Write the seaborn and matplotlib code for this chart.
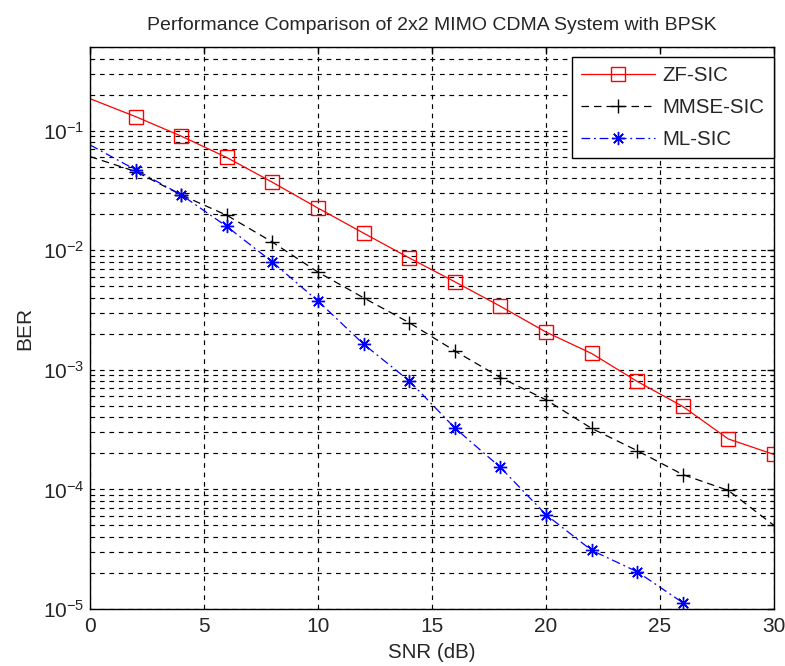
import numpy as np
import pandas as pd
import matplotlib
matplotlib.use('Agg')
import matplotlib.pyplot as plt
from matplotlib.lines import Line2D
from matplotlib.ticker import LogLocator, NullFormatter, MultipleLocator
import seaborn as sns

# Values
snr_db = [0, 2, 4, 6, 8, 10, 12, 14, 16, 18, 20, 22, 24, 26, 28, 30]
zf_sic = [0.185, 0.131, 0.090, 0.0596, 0.037, 0.0225, 0.0139, 0.00863,
          0.00545, 0.0034, 0.00207, 0.00137, 0.0008, 0.000494, 0.000264, 0.000196]
mmse_sic = [0.0607, 0.0455, 0.029, 0.0196, 0.0117, 0.00656, 0.0040, 0.00248,
            0.00144, 0.000862, 0.000562, 0.000324, 0.000211, 0.000133, 9.8e-5, 5.0e-5]
ml_sic = [0.076, 0.047, 0.0291, 0.0158, 0.00797, 0.00376, 0.00164, 0.00081,
          0.000327, 0.000153, 6.15e-5, 3.1e-5, 2.05e-5, 1.13e-5]
labels = ['ZF-SIC', 'MMSE-SIC', 'ML-SIC']

sns.set_style('white')
plt.rcParams['font.family'] = ['Liberation Sans', 'DejaVu Sans']

fig = plt.figure(figsize=(7.85, 6.66), dpi=100)
ax = fig.add_axes([0.1146, 0.0856, 0.8713, 0.8438])

asterisk = (8, 2, 0)
styles = [
    dict(color='red', linestyle='-', marker='s', markersize=9.5,
         markerfacecolor='none', markeredgecolor='red', markeredgewidth=1.0),
    dict(color='black', linestyle=(0, (6, 4)), marker='+', markersize=10,
         markerfacecolor='black', markeredgecolor='black', markeredgewidth=1.0),
    dict(color='blue', linestyle=(0, (7, 3, 1.5, 3)), marker=asterisk, markersize=9.5,
         markerfacecolor='blue', markeredgecolor='blue', markeredgewidth=1.0),
]
series = [zf_sic, mmse_sic, ml_sic]

for vals, st in zip(series, styles):
    x = snr_db[:len(vals)]
    sns.lineplot(x=x, y=vals, ax=ax, errorbar=None, linewidth=0.9,
                 markevery=list(range(1, len(vals))), **st)

ax.set_yscale('log')
ax.set_xlim(0, 30)
ax.set_ylim(1e-5, 0.5)
ax.xaxis.set_major_locator(MultipleLocator(5))
ax.yaxis.set_major_locator(LogLocator(base=10, numticks=10))
ax.yaxis.set_minor_locator(LogLocator(base=10, subs=np.arange(2, 10), numticks=20))
ax.yaxis.set_minor_formatter(NullFormatter())

grid_style = dict(color='black', linestyle=(0, (4, 4)), linewidth=0.85)
ax.grid(True, which='major', axis='both', **grid_style)
ax.grid(True, which='minor', axis='y', **grid_style)
ax.set_axisbelow(True)

for sp in ax.spines.values():
    sp.set_color('black')
    sp.set_linewidth(1.0)

ax.tick_params(which='both', direction='in', top=True, right=True, color='black')
ax.tick_params(which='major', length=5, width=1)
ax.tick_params(which='minor', length=3, width=0.8)
ax.tick_params(axis='x', labelsize=15, pad=6)
ax.tick_params(axis='y', labelsize=15, pad=4)

ax.set_xlabel('SNR (dB)', fontsize=14.8, labelpad=5)
ax.set_ylabel('BER', fontsize=15, labelpad=6)
ax.set_title('Performance Comparison of 2x2 MIMO CDMA System with BPSK',
             fontsize=14, pad=12)

handles = [Line2D([0], [0], linewidth=0.9, **st) for st in styles]
leg = ax.legend(handles, labels, loc='upper right', bbox_to_anchor=(1.0, 0.982),
                borderaxespad=0, fontsize=14.8, frameon=True, fancybox=False,
                framealpha=1, edgecolor='black', handlelength=3.6,
                handletextpad=0.35, labelspacing=0.62, borderpad=0.45)
leg.get_frame().set_linewidth(1.0)

fig.savefig('out.png', dpi=100, facecolor='white')
